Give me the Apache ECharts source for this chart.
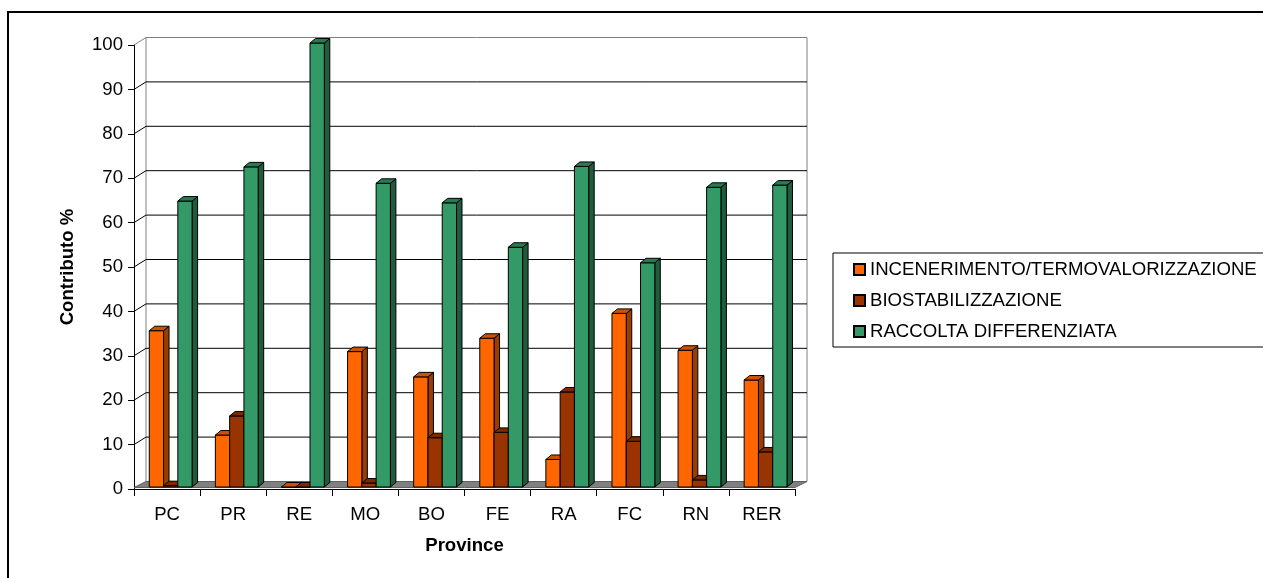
<!DOCTYPE html>
<html>
<head>
<meta charset="utf-8">
<script src="https://cdn.jsdelivr.net/npm/echarts@6/dist/echarts.min.js"></script>
<style>
html,body{margin:0;padding:0;background:#fff;}
#chart{width:1263px;height:578px;}
</style>
</head>
<body>
<div id="chart"></div>
<script>
const categories = ['PC','PR','RE','MO','BO','FE','RA','FC','RN','RER'];
const incenerimento = [35.2, 11.7, 0, 30.5, 24.8, 33.5, 6.2, 39.1, 30.8, 24.1];
const biostabilizzazione = [0.3, 16.0, 0, 0.9, 11.1, 12.3, 21.4, 10.3, 1.6, 7.9];
const raccolta = [64.4, 72.1, 100, 68.4, 64.0, 54.0, 72.2, 50.5, 67.5, 68.0];
const seriesNames = ['INCENERIMENTO/TERMOVALORIZZAZIONE','BIOSTABILIZZAZIONE','RACCOLTA DIFFERENZIATA'];
const yTicks = [0,10,20,30,40,50,60,70,80,90,100];

const FONT = "'Liberation Sans', Arial, sans-serif";
const FS = 18.6;
const colors = [
  {front:'#FF6600', top:'#CC5200', side:'#993D00'},
  {front:'#993300', top:'#7A2900', side:'#5C1F00'},
  {front:'#339966', top:'#297A52', side:'#1F5C3D'}
];
const WDX = 12, WDY = -7.5;   // wall depth
const BDX = 5.5, BDY = -4.5;  // bar depth

function barRenderer(si){
  return function(params, api){
    const ci = api.value(0), v = api.value(1);
    const base = api.coord([ci, 0]);
    const top = api.coord([ci, v]);
    const band = api.size([1, 0])[0];
    const w = band * 0.216;
    const x0 = base[0] - band/2 + band*0.231 + si*w;
    const x1 = x0 + w;
    const yb = base[1] - 2, yt = top[1] - 2;
    const c = colors[si];
    const st = {stroke:'#000', lineWidth:1};
    return {type:'group', children:[
      {type:'polygon', shape:{points:[[x1,yb],[x1+BDX,yb+BDY],[x1+BDX,yt+BDY],[x1,yt]]}, style:Object.assign({fill:c.side}, st)},
      {type:'rect', shape:{x:x0, y:yt, width:w, height:yb-yt}, style:Object.assign({fill:c.front}, st)},
      {type:'polygon', shape:{points:[[x0,yt],[x0+BDX,yt+BDY],[x1+BDX,yt+BDY],[x1,yt]]}, style:Object.assign({fill:c.top}, st)}
    ]};
  };
}

function wallRenderer(params, api){
  const n = categories.length;
  const p0 = api.coord([0, 0]);
  const band = api.size([1, 0])[0];
  const xl = p0[0] - band/2;
  const xr = xl + band*n;
  const y0 = p0[1];
  const y100 = api.coord([0, 100])[1];
  const ch = [];
  ch.push({type:'rect', shape:{x:xl+WDX, y:y100+WDY, width:xr-xl, height:y0-y100}, style:{fill:'#fff', stroke:'#808080', lineWidth:1}});
  ch.push({type:'line', shape:{x1:xl, y1:y100, x2:xl+WDX, y2:y100+WDY}, style:{stroke:'#808080', lineWidth:1}});
  yTicks.forEach(t => {
    if (t === 0 || t === 100) return;
    const y = api.coord([0, t])[1];
    ch.push({type:'line', shape:{x1:xl+WDX, y1:y+WDY, x2:xr+WDX, y2:y+WDY}, style:{stroke:'#000', lineWidth:1}});
    ch.push({type:'line', shape:{x1:xl, y1:y, x2:xl+WDX, y2:y+WDY}, style:{stroke:'#000', lineWidth:1}});
  });
  const yf = y0 - 1.5;
  ch.push({type:'polygon', shape:{points:[[xl,yf],[xl+WDX,y0+WDY],[xr+WDX,y0+WDY],[xr,yf]]}, style:{fill:'#808080', stroke:'#606060', lineWidth:1}});
  return {type:'group', children:ch};
}

const chart = echarts.init(document.getElementById('chart'), null, {renderer:'canvas'});
const mk = arr => arr.map((v,i)=>[i,v]);
const dataSets = [incenerimento, biostabilizzazione, raccolta];

chart.setOption({
  backgroundColor:'#fff',
  animation:false,
  textStyle:{fontFamily:FONT},
  grid:{left:134, right:1263-795, top:45, bottom:578-489, containLabel:false},
  xAxis:{
    type:'category', data:categories, boundaryGap:true,
    axisLine:{show:true, lineStyle:{color:'#000', width:1}},
    axisTick:{show:true, length:7, lineStyle:{color:'#000'}},
    axisLabel:{color:'#000', fontSize:FS, fontFamily:FONT, margin:16},
    name:'Province', nameLocation:'middle', nameGap:47,
    nameTextStyle:{color:'#000', fontSize:FS, fontWeight:'bold', fontFamily:FONT},
    splitLine:{show:false}
  },
  yAxis:{
    type:'value', min:0, max:100, interval:10,
    axisLine:{show:true, lineStyle:{color:'#000', width:1}},
    axisTick:{show:true, length:6, lineStyle:{color:'#000'}},
    axisLabel:{color:'#000', fontSize:FS, fontFamily:FONT, margin:11},
    splitLine:{show:false},
    name:'Contributo %', nameLocation:'middle', nameGap:57,
    nameTextStyle:{color:'#000', fontSize:FS, fontWeight:'bold', fontFamily:FONT}
  },
  legend:{
    orient:'vertical', left:848, top:254,
    data:seriesNames, icon:'rect', itemWidth:11, itemHeight:11, itemGap:10,
    textStyle:{color:'#000', fontSize:FS, fontFamily:FONT, lineHeight:21},
    selectedMode:false
  },
  graphic:[
    {type:'rect', shape:{x:8, y:12, width:1400, height:800}, style:{fill:null, stroke:'#000', lineWidth:2}, z:100, silent:true},
    {type:'rect', shape:{x:833, y:253, width:600, height:94}, style:{fill:null, stroke:'#000', lineWidth:1}, z:100, silent:true}
  ],
  series:[
    {type:'custom', name:'walls', renderItem:wallRenderer, data:[[0,0]], clip:false, z:1, silent:true},
  ].concat(seriesNames.map((nm,si)=>({
    type:'custom', name:nm, renderItem:barRenderer(si), data:mk(dataSets[si]), clip:false, z:2+si,
    itemStyle:{color:colors[si].front, borderColor:'#000', borderWidth:1},
    encode:{x:0, y:1}
  })))
});
</script>
</body>
</html>
